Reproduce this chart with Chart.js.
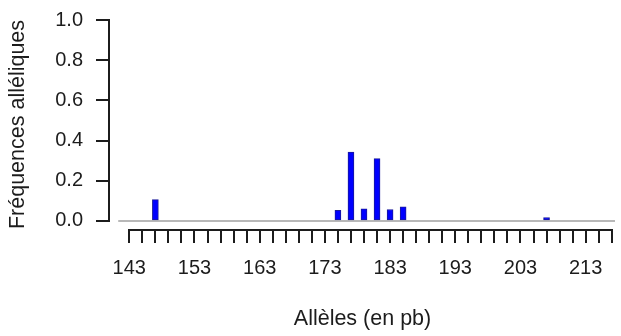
<!DOCTYPE html>
<html>
<head>
<meta charset="utf-8">
<script src="https://cdn.jsdelivr.net/npm/chart.js@4/dist/chart.umd.min.js"></script>
<style>
html,body{margin:0;padding:0;background:#fff;}
#wrap{width:621px;height:336px;position:relative;}
</style>
</head>
<body>
<div id="wrap"><canvas id="c" width="621" height="336"></canvas></div>
<script>
const alleles = [147, 175, 177, 179, 181, 183, 185, 207];
const frequencies = [0.106, 0.053, 0.343, 0.060, 0.310, 0.057, 0.070, 0.017];
const xTickValues = [];
for (let v = 143; v <= 217; v += 2) xTickValues.push(v);
const xLabelValues = [143, 153, 163, 173, 183, 193, 203, 213];
const yTickValues = [0, 0.2, 0.4, 0.6, 0.8, 1.0];
const xTitle = 'Allèles (en pb)';
const yTitle = 'Fréquences alléliques';

const FONT = "'Liberation Sans', Arial, sans-serif";
const INK = '#1c1c1c';

const axesPlugin = {
  id: 'rAxes',
  beforeDatasetsDraw(chart) {
    const {ctx, scales: {x, y}} = chart;
    ctx.save();
    ctx.strokeStyle = '#a0a0a0';
    ctx.lineWidth = 1.5;
    ctx.beginPath();
    ctx.moveTo(x.getPixelForValue(141.3), y.getPixelForValue(0));
    ctx.lineTo(x.getPixelForValue(217.5), y.getPixelForValue(0));
    ctx.stroke();
    ctx.restore();
  },
  afterDraw(chart) {
    const {ctx, scales: {x, y}, chartArea} = chart;
    ctx.save();
    ctx.strokeStyle = INK;
    ctx.lineWidth = 2;
    ctx.lineCap = 'square';
    ctx.beginPath();
    ctx.moveTo(x.getPixelForValue(xTickValues[0]), chartArea.bottom + 1);
    ctx.lineTo(x.getPixelForValue(xTickValues[xTickValues.length - 1]), chartArea.bottom + 1);
    ctx.moveTo(chartArea.left - 1, y.getPixelForValue(yTickValues[0]));
    ctx.lineTo(chartArea.left - 1, y.getPixelForValue(yTickValues[yTickValues.length - 1]));
    ctx.stroke();
    ctx.restore();
  }
};

new Chart(document.getElementById('c'), {
  type: 'bar',
  data: {
    datasets: [{
      data: alleles.map((a, i) => ({x: a, y: frequencies[i]})),
      backgroundColor: '#0000ff',
      borderColor: '#1a1a9a',
      borderWidth: 1,
      barThickness: 6,
      borderSkipped: false
    }]
  },
  options: {
    responsive: false,
    animation: false,
    events: [],
    layout: {padding: {top: 20, right: 6, left: 0, bottom: 0}},
    plugins: {legend: {display: false}, tooltip: {enabled: false}},
    scales: {
      x: {
        type: 'linear',
        offset: false,
        min: 140.04,
        max: 217.5,
        afterBuildTicks(s) { s.ticks = xTickValues.map(v => ({value: v})); },
        afterFit(s) { s.height = 107; s.paddingLeft = 0; s.paddingRight = 0; },
        border: {display: false},
        grid: {offset: false, drawOnChartArea: false, drawTicks: true, tickLength: 14, color: INK, lineWidth: 2},
        ticks: {
          autoSkip: false, maxRotation: 0, padding: 13,
          color: INK, font: {family: FONT, size: 20},
          callback: v => xLabelValues.includes(v) ? String(v) : ''
        },
        title: {display: true, text: xTitle, color: INK, font: {family: FONT, size: 21.5}, padding: {top: 0, bottom: 4}}
      },
      y: {
        type: 'linear',
        min: -0.04,
        max: 1.0,
        afterBuildTicks(s) { s.ticks = yTickValues.map(v => ({value: v})); },
        afterFit(s) { s.width = 110; s.paddingTop = 0; s.paddingBottom = 0; },
        border: {display: false},
        grid: {drawOnChartArea: false, drawTicks: true, tickLength: 14, color: INK, lineWidth: 2},
        ticks: {
          padding: 13, color: INK, font: {family: FONT, size: 20},
          callback: v => v.toFixed(1)
        },
        title: {display: true, text: yTitle, color: INK, font: {family: FONT, size: 21.5}, padding: {top: 5, bottom: 0}}
      }
    }
  },
  plugins: [axesPlugin]
});
</script>
</body>
</html>
